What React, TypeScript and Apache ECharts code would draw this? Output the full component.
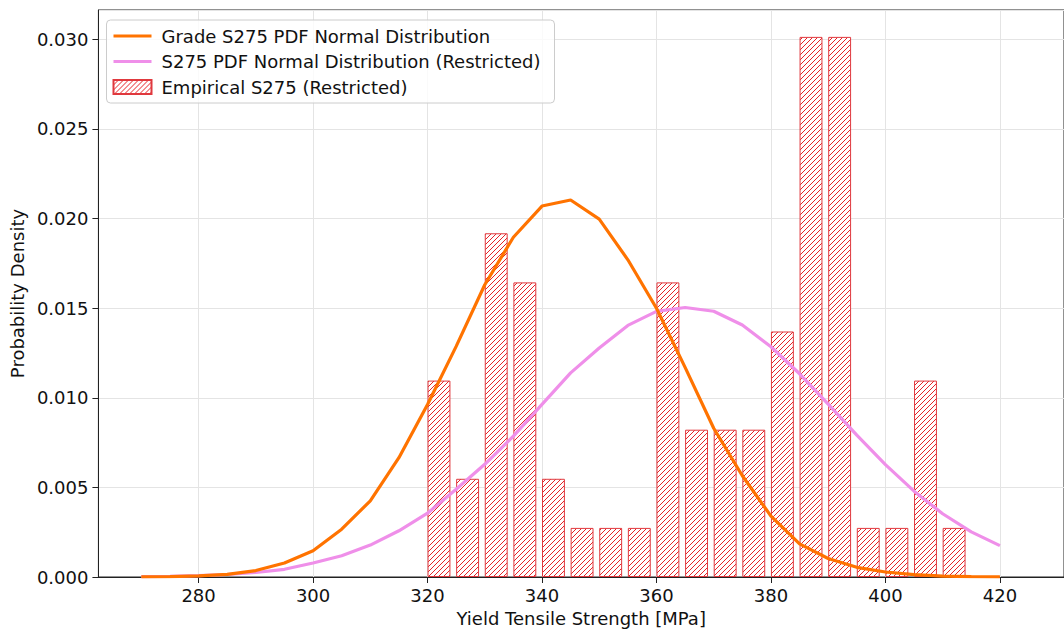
import React, { useEffect, useRef } from "react";
import * as echarts from "echarts";

// Curve sample positions (MPa)
const xPoints = [
  270, 275, 280, 285, 290, 295, 300, 305, 310, 315, 320, 325, 330, 335, 340, 345,
  350, 355, 360, 365, 370, 375, 380, 385, 390, 395, 400, 405, 410, 415, 420,
];
// Grade S275 PDF (orange)
const gradePdf = [
  0.00001, 0.00002, 0.00006, 0.00015, 0.00036, 0.00078, 0.00146, 0.00267, 0.00425,
  0.00666, 0.00963, 0.01287, 0.01631, 0.01896, 0.0207, 0.02104, 0.01997, 0.0177,
  0.015, 0.0117, 0.0083, 0.00565, 0.0034, 0.00185, 0.00103, 0.00054, 0.00028,
  0.00013, 0.00005, 0.00002, 0.00001,
];
// S275 PDF restricted (violet)
const restrictedPdf = [
  0.00002, 0.00004, 0.00008, 0.00014, 0.00025, 0.00043, 0.00078, 0.00119, 0.00178,
  0.00258, 0.00356, 0.0049, 0.00629, 0.00786, 0.00963, 0.01139, 0.01278, 0.01404,
  0.01482, 0.01504, 0.01483, 0.01406, 0.01285, 0.01134, 0.00965, 0.00792, 0.00627,
  0.00479, 0.00353, 0.00252, 0.00175,
];
// Histogram bins (left edges, MPa) and densities
const binStarts = [
  320, 325, 330, 335, 340, 345, 350, 355, 360, 365, 370, 375, 380, 385, 390, 395,
  400, 405, 410,
];
const empiricalDensity = [
  0.01096, 0.00548, 0.01918, 0.01644, 0.00548, 0.00274, 0.00274, 0.00274, 0.01644,
  0.00822, 0.00822, 0.00822, 0.0137, 0.03014, 0.03014, 0.00274, 0.00274, 0.01096,
  0.00274,
];
const binWidth = 5;
const barFraction = 0.8;

const seriesNames = [
  "Grade S275 PDF Normal Distribution",
  "S275 PDF Normal Distribution (Restricted)",
  "Empirical S275 (Restricted)",
];

const FONT = "DejaVu Sans";
const LINE_ICON = "path://M0,0 M38,14 M0,5.5 L38,5.5 L38,8.5 L0,8.5 Z";

export default function App() {
  const ref = useRef<HTMLDivElement>(null);

  useEffect(() => {
    document.body.style.margin = "0";
    const chart = echarts.init(ref.current!, null, { renderer: "svg" });

    const tile = document.createElement("canvas");
    tile.width = 10;
    tile.height = 10;
    const ctx = tile.getContext("2d")!;
    ctx.fillStyle = "#ffffff";
    ctx.fillRect(0, 0, 10, 10);
    ctx.strokeStyle = "rgb(230,36,40)";
    ctx.lineWidth = 1;
    for (const c of [0, 5, 10, 15, 20]) {
      ctx.beginPath();
      ctx.moveTo(c + 1, -1);
      ctx.lineTo(-1, c + 1);
      ctx.stroke();
    }

    const axisText = { fontSize: 18, color: "#111", fontFamily: FONT };

    chart.setOption({
      animation: false,
      textStyle: { fontFamily: FONT },
      grid: {
        left: 97,
        top: 10,
        width: 970,
        height: 568,
        show: true,
        borderColor: "#222",
        borderWidth: 1,
        backgroundColor: "transparent",
      },
      legend: {
        orient: "vertical",
        left: 106.5,
        top: 20,
        padding: [7, 14, 7, 6],
        itemWidth: 38,
        itemHeight: 14,
        itemGap: 7.5,
        borderColor: "#cccccc",
        borderWidth: 1,
        borderRadius: 4,
        backgroundColor: "rgba(255,255,255,0.8)",
        textStyle: {
          fontSize: 18,
          lineHeight: 18,
          color: "#111",
          fontFamily: FONT,
          padding: [0, 0, 0, 5],
        },
        data: [
          { name: seriesNames[0], icon: LINE_ICON },
          { name: seriesNames[1], icon: LINE_ICON },
          { name: seriesNames[2], icon: "rect" },
        ],
      },
      xAxis: {
        type: "value",
        min: 262.5,
        max: 431.2,
        splitNumber: 8,
        name: "Yield Tensile Strength [MPa]",
        nameLocation: "middle",
        nameGap: 32,
        nameTextStyle: axisText,
        axisLine: { show: true, onZero: false, lineStyle: { color: "#222", width: 1 } },
        axisTick: { show: true, length: 6, lineStyle: { color: "#222" } },
        axisLabel: { ...axisText, margin: 9, showMinLabel: false, showMaxLabel: false },
        splitLine: { show: true, lineStyle: { color: "#e4e4e4", width: 1 } },
      },
      yAxis: {
        type: "value",
        min: 0,
        max: 0.03164,
        splitNumber: 6,
        name: "Probability Density",
        nameLocation: "middle",
        nameGap: 71,
        nameTextStyle: axisText,
        axisLine: { show: true, lineStyle: { color: "#222", width: 1 } },
        axisTick: { show: true, length: 6, lineStyle: { color: "#222" } },
        axisLabel: {
          ...axisText,
          margin: 10,
          showMaxLabel: false,
          formatter: (v: number) => v.toFixed(3),
        },
        splitLine: { show: true, lineStyle: { color: "#e4e4e4", width: 1 } },
      },
      series: [
        {
          name: seriesNames[0],
          type: "line",
          data: xPoints.map((x, i) => [x, gradePdf[i]]),
          symbol: "none",
          showSymbol: false,
          lineStyle: { color: "#ff7300", width: 3.2 },
          itemStyle: { color: "#ff7300" },
          z: 4,
        },
        {
          name: seriesNames[1],
          type: "line",
          data: xPoints.map((x, i) => [x, restrictedPdf[i]]),
          symbol: "none",
          showSymbol: false,
          lineStyle: { color: "#ef8fe9", width: 3.2 },
          itemStyle: { color: "#ef8fe9" },
          z: 3,
        },
        {
          name: seriesNames[2],
          type: "bar",
          data: binStarts.map((b, i) => [b + (binWidth * barFraction) / 2, empiricalDensity[i]]),
          barWidth: "80%",
          itemStyle: {
            color: { image: tile, repeat: "repeat" },
            borderColor: "#e0393e",
            borderWidth: 1,
          },
          z: 2,
        },
      ],
    });

    return () => chart.dispose();
  }, []);

  return <div ref={ref} style={{ width: 1064, height: 632 }} />;
}
